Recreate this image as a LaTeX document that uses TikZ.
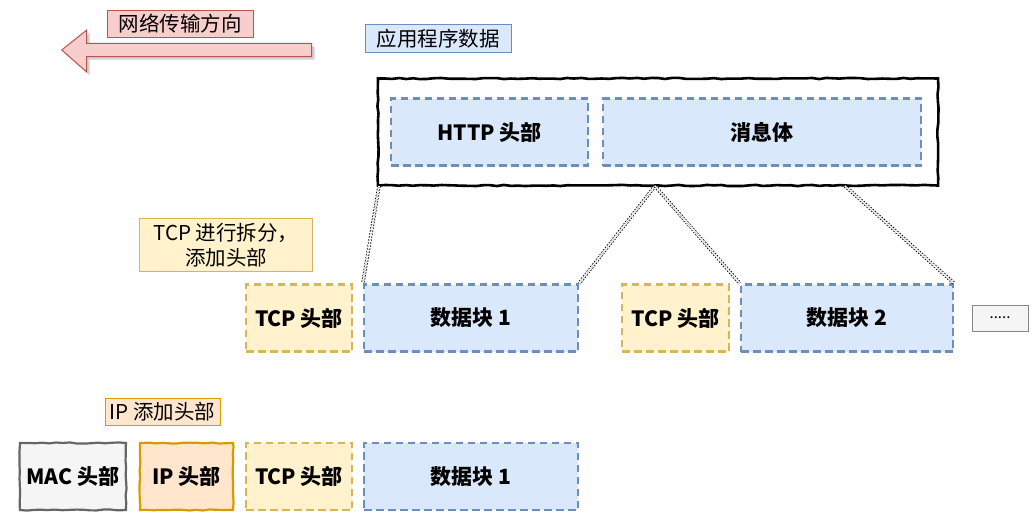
\documentclass[tikz,border=0pt]{standalone}
\usepackage{fontspec}
\setmainfont{Noto Sans CJK SC}
\usetikzlibrary{decorations.pathmorphing}
\definecolor{redF}{HTML}{F8CECC}\definecolor{redS}{HTML}{B85450}
\definecolor{blueF}{HTML}{DAE8FC}\definecolor{blueS}{HTML}{6C8EBF}
\definecolor{yelF}{HTML}{FFF2CC}\definecolor{yelS}{HTML}{D6B656}
\definecolor{orF}{HTML}{FFE6CC}\definecolor{orS}{HTML}{D79B00}
\definecolor{grF}{HTML}{F5F5F5}\definecolor{grS}{HTML}{666666}
\tikzset{
  lbl/.style={draw, line width=1pt, inner sep=0pt, font=\fontsize{20.5}{25}\selectfont, align=center},
  blk/.style={inner sep=0pt, font=\bfseries\fontsize{21}{24}\selectfont, minimum height=67pt},
  dashblk/.style={blk, line width=2.3pt, dash pattern=on 7.5pt off 4.5pt},
  sketchy/.style={decorate, decoration={random steps, segment length=7pt, amplitude=0.6pt}},
  blue/.style={dashblk, draw=blueS, fill=blueF},
  yel/.style={dashblk, draw=yelS, fill=yelF},
  link/.style={draw=black, line width=0.8pt, double=white, double distance=1.8pt, dash pattern=on 1.5pt off 1.5pt},
}
\begin{document}
\begin{tikzpicture}[x=1pt,y=-1pt]
\useasboundingbox (0,0) rectangle (1036,519);
% arrow with shadow
\fill[black, opacity=0.18] (64.5,53) -- (89.5,33) -- (89.5,46.3) -- (314.5,46.3) -- (314.5,59.7) -- (89.5,59.7) -- (89.5,75) -- cycle;
\filldraw[fill=redF, draw=redS, line width=1pt] (61.7,50) -- (86.7,30) -- (86.7,43.3) -- (311.7,43.3) -- (311.7,56.7) -- (86.7,56.7) -- (86.7,72) -- cycle;
\node[lbl, draw=redS, fill=redF, minimum width=146pt, minimum height=27pt] (lblNet) at (180,23.8) {网络传输方向};
\node[lbl, draw=blueS, fill=blueF, minimum width=146pt, minimum height=28pt] (lblApp) at (438.3,38.3) {应用程序数据};
% application data
\node[draw=black, fill=white, line width=2.6pt, minimum width=560pt, minimum height=107pt, inner sep=0pt, sketchy] (big) at (658,132) {};
\node[blue, minimum width=197pt] (http) at (489.5,132) {HTTP 头部};
\node[blue, minimum width=318pt] (body) at (762,132) {消息体};
% tcp
\node[lbl, draw=yelS, fill=yelF, minimum width=173pt, minimum height=53pt] (lblTCP) at (226,245.3) {TCP 进行拆分，\\添加头部};
\node[yel, minimum width=106pt] (tcp1) at (299,318) {TCP 头部};
\node[blue, minimum width=214pt] (data1) at (471,318) {数据块 1};
\node[yel, minimum width=107pt] (tcp2) at (675.5,318) {TCP 头部};
\node[blue, minimum width=212pt] (data2) at (847,318) {数据块 2};
\node[draw=grS!80, fill=grF, line width=1pt, minimum width=56pt, minimum height=26pt, inner sep=0pt, font=\fontsize{15}{16}\selectfont] (more) at (1000,318) {.....};
\coordinate (apexL) at (379,186);
\coordinate (apexM) at (655,186);
\coordinate (apexR) at (845,186);
\draw[link] (apexL) -- (data1.north west);
\draw[link] (apexM) -- (data1.north east);
\draw[link] (apexM) -- (data2.north west);
\draw[link] (apexR) -- (data2.north east);
% ip
\node[lbl, draw=orS, fill=orF, minimum width=115pt, minimum height=27pt] (lblIP) at (162.5,411.5) {IP 添加头部};
\node[blk, draw=grS, fill=grF, line width=2.2pt, minimum width=106pt, sketchy] (mac) at (73,476.5) {MAC 头部};
\node[blk, draw=orS, fill=orF, line width=2.2pt, minimum width=93pt, sketchy] (ip) at (186.5,476.5) {IP 头部};
\node[yel, minimum width=106pt] (tcp3) at (299,476.5) {TCP 头部};
\node[blue, minimum width=214pt] (data3) at (471,476.5) {数据块 1};
\end{tikzpicture}
\end{document}
